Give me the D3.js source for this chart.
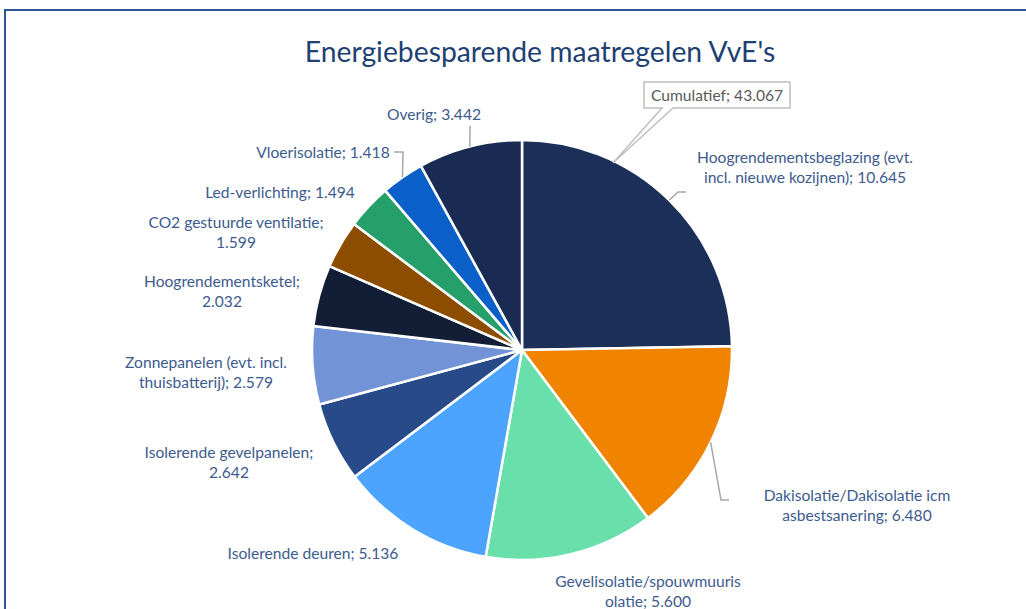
<!DOCTYPE html>
<html>
<head>
<meta charset="utf-8">
<script src="https://cdn.jsdelivr.net/npm/d3@7"></script>
<style>
  html, body { margin: 0; padding: 0; background: #fff; }
  svg { display: block; }
</style>
</head>
<body>
<div id="chart"></div>
<script>
// Energiebesparende maatregelen - pie chart
const categories = [
  'Hoogrendementsbeglazing (evt. incl. nieuwe kozijnen)',
  'Dakisolatie/Dakisolatie icm asbestsanering',
  'Gevelisolatie/spouwmuurisolatie',
  'Isolerende deuren',
  'Isolerende gevelpanelen',
  'Zonnepanelen (evt. incl. thuisbatterij)',
  'Hoogrendementsketel',
  'CO2 gestuurde ventilatie',
  'Led-verlichting',
  'Vloerisolatie',
  'Overig'
];
const values = [10645, 6480, 5600, 5136, 2642, 2579, 2032, 1599, 1494, 1418, 3442];
const sliceColors = ['#1b2f58', '#f08300', '#69dfab', '#4da4ff', '#284a88', '#7294d6',
                     '#111e36', '#8c4d00', '#26a06a', '#0a5fc8', '#192b52'];
const title = "Energiebesparende maatregelen VvE's";
const totalLabel = 'Cumulatief';

// label layout (center x, first line y, break index, leader elbow / end)
const labelLayout = [
  { x: 805, y: 157, brk: 29, elbow: [678, 192], end: [686, 192] },
  { x: 857, y: 495, brk: 27, elbow: [721, 500], end: [729, 500] },
  { x: 648, y: 581, brk: 25 },
  { x: 313, y: 553 },
  { x: 229, y: 452, brk: 24 },
  { x: 206, y: 362, brk: 24 },
  { x: 222, y: 281, brk: 20 },
  { x: 236, y: 222, brk: 25 },
  { x: 280, y: 192 },
  { x: 323, y: 152, elbow: [403, 152], end: [394, 152] },
  { x: 434, y: 114, elbow: [470, 126], end: [470, 126] }
];

const width = 1026, height = 609;
const cx = 522, cy = 350, radius = 210;
const labelColor = '#3d5b8e';
const font = 'Lato, "Open Sans", Arial, sans-serif';

const nl = d3.formatLocale({ decimal: ',', thousands: '.', grouping: [3], currency: ['€', ''] });
const fmt = nl.format(',d');

const svg = d3.select('#chart').append('svg')
  .attr('width', width)
  .attr('height', height);

// chart frame
svg.append('rect')
  .attr('x', 5)
  .attr('y', 10)
  .attr('width', 1100)
  .attr('height', 700)
  .attr('fill', '#fff')
  .attr('stroke', '#2f5597')
  .attr('stroke-width', 2);

svg.append('text')
  .attr('x', 540)
  .attr('y', 62)
  .attr('text-anchor', 'middle')
  .attr('font-family', font)
  .attr('font-size', 28.3)
  .attr('fill', '#203f73')
  .text(title);

const data = categories.map((c, i) => ({ name: c, value: values[i], color: sliceColors[i], layout: labelLayout[i] }));

const pie = d3.pie().value(d => d.value).sort(null);
const arcs = pie(data);
const arc = d3.arc().innerRadius(0).outerRadius(radius);

const g = svg.append('g').attr('transform', `translate(${cx},${cy})`);

g.selectAll('path')
  .data(arcs)
  .enter().append('path')
  .attr('d', arc)
  .attr('fill', d => d.data.color)
  .attr('stroke', '#fff')
  .attr('stroke-width', 2.5)
  .attr('stroke-linejoin', 'round');

// leader lines
arcs.forEach(a => {
  const L = a.data.layout;
  if (!L.elbow) return;
  const mid = (a.startAngle + a.endAngle) / 2;
  const sx = cx + radius * Math.sin(mid);
  const sy = cy - radius * Math.cos(mid);
  svg.append('path')
    .attr('d', `M${sx},${sy}L${L.elbow[0]},${L.elbow[1]}L${L.end[0]},${L.end[1]}`)
    .attr('fill', 'none')
    .attr('stroke', '#a6a6a6')
    .attr('stroke-width', 1.5);
});

// data labels
arcs.forEach(a => {
  const L = a.data.layout;
  const full = `${a.data.name}; ${fmt(a.data.value)}`;
  const lines = L.brk ? [full.slice(0, L.brk).trim(), full.slice(L.brk).trim()] : [full];
  const t = svg.append('text')
    .attr('text-anchor', 'middle')
    .attr('font-family', font)
    .attr('font-size', 15.6)
    .attr('fill', labelColor);
  lines.forEach((s, i) => {
    t.append('tspan')
      .attr('x', L.x)
      .attr('y', L.y + 5.5 + i * 20.5)
      .text(s);
  });
});

// cumulative callout
const total = d3.sum(values);
const box = { x0: 644, y0: 82, x1: 790, y1: 108 };
const tip = [613, 163];
svg.append('path')
  .attr('d', `M${box.x0},${box.y0}H${box.x1}V${box.y1}H673L${tip[0]},${tip[1]}L662,${box.y1}H${box.x0}Z`)
  .attr('fill', '#fff')
  .attr('stroke', '#bfbfbf')
  .attr('stroke-width', 1.5);
svg.append('text')
  .attr('x', (box.x0 + box.x1) / 2)
  .attr('y', box.y1 - 7.5)
  .attr('text-anchor', 'middle')
  .attr('font-family', font)
  .attr('font-size', 15.6)
  .attr('fill', '#595959')
  .text(`${totalLabel}; ${fmt(total)}`);
</script>
</body>
</html>
